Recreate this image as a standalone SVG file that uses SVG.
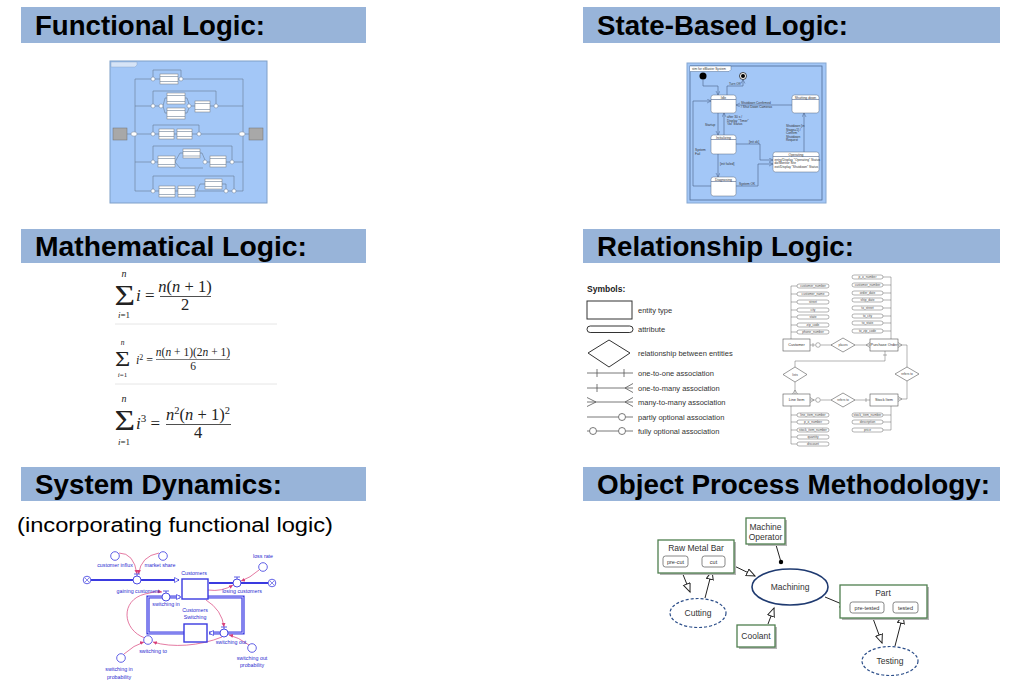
<svg xmlns="http://www.w3.org/2000/svg" width="1024" height="688" viewBox="0 0 1024 688">
<defs>
<style>
.hbar{fill:#98b4d9}
.htxt{font-family:"Liberation Sans",Arial,sans-serif;font-weight:bold;font-size:28px;fill:#000}
.sub{font-family:"Liberation Sans",Arial,sans-serif;font-size:20px;fill:#000}
.flbg{fill:#a3c7f7;stroke:#7f9fc8;stroke-width:1}
.flln{fill:none;stroke:#6a7d96;stroke-width:0.6}
.flbox{fill:#fff;stroke:#777;stroke-width:0.5}
.flc{fill:#fff;stroke:#6a7d96;stroke-width:0.5}
.flg{fill:#a8a8a8;stroke:#6f6f6f;stroke-width:0.5}
.st{fill:#fff;stroke:#5a6a80;stroke-width:0.5}
.stl{fill:none;stroke:#4b6288;stroke-width:0.6}
.stt{font-family:"Liberation Sans",Arial,sans-serif;font-size:3.2px;fill:#333}
.stn{font-family:"Liberation Sans",Arial,sans-serif;font-size:3.4px;fill:#333;text-anchor:middle}
.m{font-family:"Liberation Serif","Times New Roman",serif;fill:#222}
.mi{font-style:italic}
.sep{stroke:#e6e6e6;stroke-width:1}
.sym{font-family:"Liberation Sans",Arial,sans-serif;font-size:7.5px;fill:#333}
.symb{font-family:"Liberation Sans",Arial,sans-serif;font-size:8.5px;font-weight:bold;fill:#222}
.erl{fill:none;stroke:#555;stroke-width:0.8}
.ere{fill:#fff;stroke:#555;stroke-width:0.6}
.era{fill:#fff;stroke:#666;stroke-width:0.5}
.erline{fill:none;stroke:#666;stroke-width:0.5}
.ert{font-family:"Liberation Sans",Arial,sans-serif;font-size:3.2px;fill:#444;text-anchor:middle}
.erT{font-family:"Liberation Sans",Arial,sans-serif;font-size:3.8px;fill:#333;text-anchor:middle}
.sdp{fill:none;stroke:#3a3ae0;stroke-width:2}
.sdloop{fill:none;stroke:#3a3ae0;stroke-width:3.2}
.sdloopin{fill:none;stroke:#c9c9ff;stroke-width:1}
.sdv{fill:#fff;stroke:#3a3ae0;stroke-width:0.9}
.sdc{fill:#fff;stroke:#3a3ae0;stroke-width:0.8}
.sdk{fill:#fff;stroke:#3a3ae0;stroke-width:1.4}
.sdt{font-family:"Liberation Sans",Arial,sans-serif;font-size:5.3px;fill:#2a2ad0;text-anchor:middle}
.sdpink{fill:none;stroke:#d8407a;stroke-width:0.7}
.opb{fill:#fff;stroke:#4f7f4f;stroke-width:1.3}
.opsh{fill:#b5b5b5}
.ops{fill:#fff;stroke:#555;stroke-width:0.7}
.opt{font-family:"Liberation Sans",Arial,sans-serif;font-size:8.5px;fill:#333;text-anchor:middle}
.opts{font-family:"Liberation Sans",Arial,sans-serif;font-size:5.5px;fill:#333;text-anchor:middle}
.opl{fill:none;stroke:#222;stroke-width:1}
</style>
<marker id="stA" markerUnits="userSpaceOnUse" markerWidth="5" markerHeight="5" refX="4" refY="2" orient="auto"><path d="M0,0 L4,2 L0,4" fill="none" stroke="#4b6288" stroke-width="0.5"/></marker>
<marker id="opA" markerUnits="userSpaceOnUse" markerWidth="11" markerHeight="10" refX="9" refY="4" orient="auto"><path d="M0.5,0.5 L9,4 L0.5,7.5 z" fill="#fff" stroke="#222" stroke-width="1"/></marker>
<marker id="sdH" markerUnits="userSpaceOnUse" markerWidth="7" markerHeight="7" refX="5" refY="3" orient="auto"><path d="M0.5,0.5 L5,3 L0.5,5.5 z" fill="#fff" stroke="#3a3ae0" stroke-width="0.7"/></marker>
<marker id="sdP" markerUnits="userSpaceOnUse" markerWidth="5" markerHeight="5" refX="4" refY="2" orient="auto"><path d="M0,0 L4,2 L0,4 z" fill="#d8407a"/></marker>
</defs>
<rect width="1024" height="688" fill="#fff"/>

<g id="headers">
<rect class="hbar" x="21" y="7" width="345" height="36"/>
<text class="htxt" x="35" y="35" textLength="230" lengthAdjust="spacingAndGlyphs">Functional Logic:</text>
<rect class="hbar" x="583" y="7" width="417" height="36"/>
<text class="htxt" x="597" y="35" textLength="251" lengthAdjust="spacingAndGlyphs">State-Based Logic:</text>
<rect class="hbar" x="21" y="229" width="345" height="34"/>
<text class="htxt" x="35" y="256" textLength="272" lengthAdjust="spacingAndGlyphs">Mathematical Logic:</text>
<rect class="hbar" x="583" y="229" width="417" height="34"/>
<text class="htxt" x="597" y="256" textLength="257" lengthAdjust="spacingAndGlyphs">Relationship Logic:</text>
<rect class="hbar" x="21" y="467" width="345" height="34"/>
<text class="htxt" x="35" y="494" textLength="247" lengthAdjust="spacingAndGlyphs">System Dynamics:</text>
<rect class="hbar" x="583" y="467" width="417" height="34"/>
<text class="htxt" x="597" y="494" textLength="393" lengthAdjust="spacingAndGlyphs">Object Process Methodology:</text>
<text class="sub" x="17" y="532" textLength="316" lengthAdjust="spacingAndGlyphs">(incorporating functional logic)</text>
</g>

<g id="functional-logic">
<rect class="flbg" x="110" y="61" width="157" height="142"/>
<path d="M111,62 H137 V65 L135,67 H111 z" fill="#d6e4f7" stroke="#7f9fc8" stroke-width="0.4"/>
<rect class="flg" x="113" y="128" width="14" height="12"/>
<rect class="flg" x="249" y="128" width="14" height="12"/>
<path class="flln" d="M127,134 H132 M135,79 V191 M243,79 V191 M245,134 H249
M135,79 H151 M155,79 H160 M178,79 H179 M183,79 H243 M153,77 V70 H181 V77
M135,106 H151 M155,106 H159 M163,106 L165,98 H167 M163,106 L165,113 H167 M185,98 H187 L189,104 M185,113 H187 L189,108 M191,106 H195 M210,106 H214 M218,106 H243 M153,104 V91 H216 V104
M136,134 H151 M155,134 H159 M174,134 H177 M192,134 H197 M201,134 H239 M153,132 V125 H199 V132
M135,162 H151 M155,162 H158 M175,162 L180,153 H183 M175,162 L180,168 H203 M200,153 H202 L205,160 M207,162 H210 M226,162 H230 M234,162 H243 M153,160 V146 H232 V160
M135,191 H151 M155,191 H159 M175,191 H178 M195,191 H224 M197,191 L200,184 H205 M222,184 H226 V189 M228,191 H232 M236,191 H243 M153,189 V176 H234 V189"/>
<ellipse class="flc" cx="134" cy="134" rx="3" ry="2.2"/>
<ellipse class="flc" cx="242" cy="134" rx="3" ry="2.2"/>
<circle class="flc" cx="153" cy="79" r="2"/><circle class="flc" cx="181" cy="79" r="2"/>
<rect class="flbox" x="160" y="74" width="18" height="10"/><path class="flln" d="M160,76.5 H178 M160,81.5 H178"/>
<circle class="flc" cx="153" cy="106" r="2"/><circle class="flc" cx="161" cy="106" r="2"/><circle class="flc" cx="189" cy="106" r="2"/><circle class="flc" cx="216" cy="106" r="2"/>
<rect class="flbox" x="167" y="93" width="18" height="11"/><path class="flln" d="M167,95.5 H185 M167,101.5 H185"/>
<rect class="flbox" x="167" y="108" width="18" height="11"/><path class="flln" d="M167,110.5 H185 M167,116.5 H185"/>
<rect class="flbox" x="195" y="101" width="15" height="11"/><path class="flln" d="M195,103.5 H210 M195,109.5 H210"/>
<circle class="flc" cx="153" cy="134" r="2"/><circle class="flc" cx="199" cy="134" r="2"/>
<rect class="flbox" x="159" y="129" width="15" height="10"/><path class="flln" d="M159,131.5 H174 M159,136.5 H174"/>
<rect class="flbox" x="177" y="129" width="15" height="10"/><path class="flln" d="M177,131.5 H192 M177,136.5 H192"/>
<circle class="flc" cx="153" cy="162" r="2"/><circle class="flc" cx="205" cy="162" r="2"/><circle class="flc" cx="232" cy="162" r="2"/>
<rect class="flbox" x="158" y="156" width="17" height="11"/><path class="flln" d="M158,158.5 H175 M158,164.5 H175"/>
<rect class="flbox" x="183" y="149" width="17" height="9"/><path class="flln" d="M183,151.5 H200 M183,156 H200"/>
<rect class="flbox" x="210" y="156" width="16" height="11"/><path class="flln" d="M210,158.5 H226 M210,164.5 H226"/>
<circle class="flc" cx="153" cy="191" r="2"/><circle class="flc" cx="226" cy="191" r="2"/><circle class="flc" cx="234" cy="191" r="2"/>
<rect class="flbox" x="159" y="186" width="16" height="11"/><path class="flln" d="M159,188.5 H175 M159,194.5 H175"/>
<rect class="flbox" x="178" y="186" width="17" height="11"/><path class="flln" d="M178,188.5 H195 M178,194.5 H195"/>
<rect class="flbox" x="205" y="179" width="17" height="10"/><path class="flln" d="M205,181.5 H222 M205,186.5 H222"/>
</g>

<g id="state-based-logic">
<rect x="687" y="63" width="139" height="140" fill="#a3c7f7" stroke="#86a8d2" stroke-width="1"/>
<rect x="690" y="66" width="132" height="134" fill="none" stroke="#4f6d96" stroke-width="0.8"/>
<path d="M690,66 H731 V69.5 L729,71.5 H690" fill="#fff" stroke="#4f6d96" stroke-width="0.5"/>
<text class="stt" x="692" y="70">stm for eBlaster System</text>
<circle cx="703" cy="76" r="3.5" fill="#000"/>
<circle cx="743" cy="76" r="3.5" fill="#fff" stroke="#000" stroke-width="0.7"/><circle cx="743" cy="76" r="2" fill="#000"/>
<g id="st-conn">
<path class="stl" d="M703,79.5 V86 H718 V95" marker-end="url(#stA)"/>
<path class="stl" d="M727,95 V86 H743 V79.5" marker-end="url(#stA)"/>
<path class="stl" d="M792,105 H736" marker-end="url(#stA)"/>
<path class="stl" d="M718,113 V135" marker-end="url(#stA)"/>
<path class="stl" d="M724,135 V113" marker-end="url(#stA)"/>
<path class="stl" d="M804,152 V113" marker-end="url(#stA)"/>
<path class="stl" d="M736,144 H760 V160 H773" marker-end="url(#stA)"/>
<path class="stl" d="M718,154 V177" marker-end="url(#stA)"/>
<path class="stl" d="M736,186 H758 V164 H773" marker-end="url(#stA)"/>
<path class="stl" d="M711,186 H693 V101 H711" marker-end="url(#stA)"/>
</g>
<text class="stt" x="729" y="85">Turn Off</text>
<text class="stt" x="741" y="104">Shutdown Confirmed</text>
<text class="stt" x="741" y="108">/ Shut Down Cameras</text>
<text class="stt" x="705" y="126">Startup</text>
<text class="stt" x="727" y="118">after 30 s /</text>
<text class="stt" x="727" y="121.5">Display "Timer"</text>
<text class="stt" x="727" y="125">'Go' Status</text>
<text class="stt" x="786" y="127">Shutdown [in</text>
<text class="stt" x="786" y="130.5">Stage=1] /</text>
<text class="stt" x="786" y="134">Confirm</text>
<text class="stt" x="786" y="137.5">Shutdown</text>
<text class="stt" x="786" y="141">Request</text>
<text class="stt" x="749" y="143">[init ok]</text>
<text class="stt" x="720" y="165">[init failed]</text>
<text class="stt" x="739" y="185">System OK</text>
<text class="stt" x="695" y="151">System</text>
<text class="stt" x="695" y="155">Fail</text>
<g id="st-idle"><rect class="st" x="711" y="95" width="25" height="18" rx="2.5"/><path class="stl" d="M711,99.5 H736"/><text class="stn" x="723.5" y="98.5">Idle</text></g>
<g id="st-shut"><rect class="st" x="792" y="95" width="27" height="18" rx="2.5"/><path class="stl" d="M792,99.5 H819"/><text class="stn" x="805.5" y="98.5">Shutting down</text></g>
<g id="st-init"><rect class="st" x="711" y="135" width="25" height="19" rx="2.5"/><path class="stl" d="M711,139.5 H736"/><text class="stn" x="723.5" y="138.5">Initializing</text></g>
<g id="st-oper"><rect class="st" x="773" y="152" width="46" height="20" rx="2.5"/><path class="stl" d="M773,156.5 H819"/><text class="stn" x="796" y="155.5">Operating</text>
<text class="stt" x="774.5" y="160.5">entry/Display "Operating" Status</text><text class="stt" x="774.5" y="164">do/Monitor Site</text><text class="stt" x="774.5" y="167.5">exit/Display "Shutdown" Status</text></g>
<g id="st-diag"><rect class="st" x="711" y="177" width="25" height="19" rx="2.5"/><path class="stl" d="M711,181.5 H736"/><text class="stn" x="723.5" y="180.5">Diagnosing</text></g>
</g>

<g id="mathematical-logic">
<g id="eq1">
<text class="m mi" x="124" y="276.5" font-size="10" text-anchor="middle">n</text>
<text class="m" font-size="29" transform="translate(114.5,305) scale(1.22,1)">Σ</text>
<text class="m" x="124" y="317.5" font-size="9" text-anchor="middle"><tspan class="mi">i</tspan>=1</text>
<text class="m" x="136" y="301" font-size="17"><tspan class="mi">i</tspan> =</text>
<text class="m" x="185" y="292" font-size="16.5" text-anchor="middle"><tspan class="mi">n</tspan>(<tspan class="mi">n</tspan> + 1)</text>
<line x1="160" y1="296.5" x2="211" y2="296.5" stroke="#222" stroke-width="0.8"/>
<text class="m" x="185" y="310" font-size="16.5" text-anchor="middle">2</text>
</g>
<line class="sep" x1="115" y1="324" x2="277" y2="324"/>
<g id="eq2">
<text class="m mi" x="122.5" y="345" font-size="7.5" text-anchor="middle">n</text>
<text class="m" font-size="21.5" transform="translate(115,366) scale(1.22,1)">Σ</text>
<text class="m" x="122.5" y="377" font-size="7" text-anchor="middle"><tspan class="mi">i</tspan>=1</text>
<text class="m" x="136" y="364" font-size="12"><tspan class="mi">i</tspan><tspan font-size="8" dy="-4">2</tspan><tspan dy="4"> =</tspan></text>
<text class="m" x="193" y="356" font-size="11.5" text-anchor="middle"><tspan class="mi">n</tspan>(<tspan class="mi">n</tspan> + 1)(2<tspan class="mi">n</tspan> + 1)</text>
<line x1="156" y1="359.5" x2="230" y2="359.5" stroke="#222" stroke-width="0.6"/>
<text class="m" x="193" y="370" font-size="11.5" text-anchor="middle">6</text>
</g>
<line class="sep" x1="115" y1="384" x2="277" y2="384"/>
<g id="eq3">
<text class="m mi" x="124" y="401.5" font-size="10" text-anchor="middle">n</text>
<text class="m" font-size="29" transform="translate(114.5,430) scale(1.22,1)">Σ</text>
<text class="m" x="124" y="445" font-size="9" text-anchor="middle"><tspan class="mi">i</tspan>=1</text>
<text class="m" x="136" y="429" font-size="17"><tspan class="mi">i</tspan><tspan font-size="11" dy="-7">3</tspan><tspan dy="7"> =</tspan></text>
<text class="m" x="198" y="420" font-size="16.5" text-anchor="middle"><tspan class="mi">n</tspan><tspan font-size="10.5" dy="-6">2</tspan><tspan dy="6">(</tspan><tspan class="mi">n</tspan> + 1)<tspan font-size="10.5" dy="-6">2</tspan></text>
<line x1="166" y1="424.5" x2="231" y2="424.5" stroke="#222" stroke-width="0.8"/>
<text class="m" x="198" y="438" font-size="16.5" text-anchor="middle">4</text>
</g>
</g>

<g id="relationship-symbols">
<text class="symb" x="587" y="292">Symbols:</text>
<rect x="587" y="301" width="45" height="18" fill="#fff" stroke="#333" stroke-width="1"/>
<text class="sym" x="638" y="313">entity type</text>
<rect x="587" y="326" width="46" height="6.5" rx="3.2" fill="#fff" stroke="#333" stroke-width="1"/>
<text class="sym" x="638" y="332">attribute</text>
<path d="M588,353 L609,340 L630,353 L609,367 z" fill="#fff" stroke="#333" stroke-width="1"/>
<text class="sym" x="638" y="356">relationship between entities</text>
<path class="erl" d="M587,373 H633 M597,369 V377 M624,369 V377"/>
<text class="sym" x="638" y="376">one-to-one association</text>
<path class="erl" d="M587,388 H633 M597,384 V392 M633,383.5 L625,388 L633,392.5"/>
<text class="sym" x="638" y="391">one-to-many association</text>
<path class="erl" d="M587,402 H633 M587,397.5 L596,402 L587,406.5 M633,397.5 L625,402 L633,406.5"/>
<text class="sym" x="638" y="405">many-to-many association</text>
<path class="erl" d="M587,417 H618.5 M625.5,417 H633"/><circle cx="622" cy="417" r="3.5" fill="#fff" stroke="#555" stroke-width="0.8"/>
<text class="sym" x="638" y="420">partly optional association</text>
<path class="erl" d="M587,431 H589.5 M596.5,431 H618.5 M625.5,431 H633"/><circle cx="593" cy="431" r="3.5" fill="#fff" stroke="#555" stroke-width="0.8"/><circle cx="622" cy="431" r="3.5" fill="#fff" stroke="#555" stroke-width="0.8"/>
<text class="sym" x="638" y="434">fully optional association</text>
</g>

<g id="er-connectors">
<path class="erline" d="M791,286 V339 M791,286 H797 M791,294 H797 M791,302 H797 M791,310 H797 M791,317 H797 M791,325 H797 M791,332 H797"/>
<path class="erline" d="M891,277 V339 M891,277 H883 M891,285 H883 M891,293 H883 M891,300 H883 M891,308 H883 M891,316 H883 M891,323 H883 M891,331 H883"/>
<path class="erline" d="M791,405 V444 M791,415 H797 M791,422 H797 M791,430 H797 M791,437 H797 M791,444 H797"/>
<path class="erline" d="M891,405 V430 M891,415 H883 M891,422 H883 M891,430 H883"/>
<path class="erline" d="M810,345 H815.5 M820.5,345 H832 M813,343 V347 M855,345 H870 M870,342.5 L866,345 L870,347.5"/>
<circle cx="818" cy="345" r="2.3" fill="#fff" stroke="#666" stroke-width="0.5"/>
<path class="erline" d="M885,351 V361 H795 V367 M883,355 H887 M795,382 V394 M792.5,394 L795,390 L797.5,394"/>
<path class="erline" d="M810,400 H815.5 M820.5,400 H831 M810,397.5 L814,400 L810,402.5 M855,400 H870 M866,398 V402"/>
<circle cx="818" cy="400" r="2.3" fill="#fff" stroke="#666" stroke-width="0.5"/>
<path class="erline" d="M898,345 H907 V367 M898,342.5 L902,345 L898,347.5 M907,381 V399 H898 M898,396.5 L902,399 L898,401.5"/>
</g>
<g id="er-customer"><rect class="ere" x="783" y="339" width="27" height="12"/><text class="erT" x="796.5" y="346.3">Customer</text></g>
<g id="er-po"><rect class="ere" x="870" y="339" width="28" height="12"/><text class="erT" x="884" y="346.3">Purchase Order</text></g>
<g id="er-lineitem"><rect class="ere" x="783" y="394" width="27" height="12"/><text class="erT" x="796.5" y="401.3">Line Item</text></g>
<g id="er-stockitem"><rect class="ere" x="870" y="394" width="28" height="12"/><text class="erT" x="884" y="401.3">Stock Item</text></g>
<g id="er-places"><path class="ere" d="M831,345 L843,338 L855,345 L843,352 z"/><text class="ert" x="843" y="346.2">places</text></g>
<g id="er-lists"><path class="ere" d="M783,374.5 L795,367 L807,374.5 L795,382 z"/><text class="ert" x="795" y="375.7">lists</text></g>
<g id="er-refers1"><path class="ere" d="M831,400 L843,393 L855,400 L843,407 z"/><text class="ert" x="843" y="401.2">refers to</text></g>
<g id="er-refers2"><path class="ere" d="M895,374 L907,367 L919,374 L907,381 z"/><text class="ert" x="907" y="375.2">refers to</text></g>
<g id="er-attrs">
<rect class="era" x="797" y="284" width="32" height="4" rx="2"/><text class="ert" x="813" y="287">customer_number</text>
<rect class="era" x="797" y="292" width="32" height="4" rx="2"/><text class="ert" x="813" y="295">customer_name</text>
<rect class="era" x="797" y="300" width="32" height="4" rx="2"/><text class="ert" x="813" y="303">street</text>
<rect class="era" x="797" y="308" width="32" height="4" rx="2"/><text class="ert" x="813" y="311">city</text>
<rect class="era" x="797" y="315" width="32" height="4" rx="2"/><text class="ert" x="813" y="318">state</text>
<rect class="era" x="797" y="323" width="32" height="4" rx="2"/><text class="ert" x="813" y="326">zip_code</text>
<rect class="era" x="797" y="330" width="32" height="4" rx="2"/><text class="ert" x="813" y="333">phone_number</text>
<rect class="era" x="852" y="275" width="31" height="4" rx="2"/><text class="ert" x="867.5" y="278">p_o_number</text>
<rect class="era" x="852" y="283" width="31" height="4" rx="2"/><text class="ert" x="867.5" y="286">customer_number</text>
<rect class="era" x="852" y="291" width="31" height="4" rx="2"/><text class="ert" x="867.5" y="294">order_date</text>
<rect class="era" x="852" y="298" width="31" height="4" rx="2"/><text class="ert" x="867.5" y="301">ship_date</text>
<rect class="era" x="852" y="306" width="31" height="4" rx="2"/><text class="ert" x="867.5" y="309">to_street</text>
<rect class="era" x="852" y="314" width="31" height="4" rx="2"/><text class="ert" x="867.5" y="317">to_city</text>
<rect class="era" x="852" y="321" width="31" height="4" rx="2"/><text class="ert" x="867.5" y="324">to_state</text>
<rect class="era" x="852" y="329" width="31" height="4" rx="2"/><text class="ert" x="867.5" y="332">to_zip_code</text>
<rect class="era" x="797" y="413" width="32" height="4" rx="2"/><text class="ert" x="813" y="416">line_item_number</text>
<rect class="era" x="797" y="420" width="32" height="4" rx="2"/><text class="ert" x="813" y="423">p_o_number</text>
<rect class="era" x="797" y="428" width="32" height="4" rx="2"/><text class="ert" x="813" y="431">stock_item_number</text>
<rect class="era" x="797" y="435" width="32" height="4" rx="2"/><text class="ert" x="813" y="438">quantity</text>
<rect class="era" x="797" y="442" width="32" height="4" rx="2"/><text class="ert" x="813" y="445">discount</text>
<rect class="era" x="852" y="413" width="31" height="4" rx="2"/><text class="ert" x="867.5" y="416">stock_item_number</text>
<rect class="era" x="852" y="420" width="31" height="4" rx="2"/><text class="ert" x="867.5" y="423">description</text>
<rect class="era" x="852" y="428" width="31" height="4" rx="2"/><text class="ert" x="867.5" y="431">price</text>
</g>

<g id="sd-connectors">
<path class="sdp" d="M91,580 H179" marker-end="url(#sdH)"/>
<path class="sdp" d="M209,583 H268"/>
<path class="sdloop" d="M208,597 H243 V633 H209"/>
<path class="sdloopin" d="M208,597 H243 V633 H212"/>
<path d="M213,633 H209" stroke="none" fill="none" marker-end="url(#sdH)"/>
<path class="sdloop" d="M184,633 H148 V597 H180"/>
<path class="sdloopin" d="M184,633 H148 V597 H178"/>
<path d="M176,597 H181" fill="none" marker-end="url(#sdH)"/>
<path class="sdpink" d="M119,553 Q134,553 137,574" marker-end="url(#sdP)"/>
<path class="sdpink" d="M159,553 Q141,556 138.5,574" marker-end="url(#sdP)"/>
<path class="sdpink" d="M259,570 Q250,578 241,581" marker-end="url(#sdP)"/>
<path class="sdpink" d="M208,590 Q222,592 233,585" marker-end="url(#sdP)"/>
<path class="sdpink" d="M206,600 Q222,610 224,627" marker-end="url(#sdP)"/>
<path class="sdpink" d="M145,638 C122,630 120,600 145,594 Q155,591 162,592" marker-end="url(#sdP)"/>
<path class="sdpink" d="M222,637 C200,646 172,648 153,642" marker-end="url(#sdP)"/>
<path class="sdpink" d="M124,654 Q134,645 144,642" marker-end="url(#sdP)"/>
<path class="sdpink" d="M249,645 Q238,637 229,635" marker-end="url(#sdP)"/>
</g>
<g id="sd-nodes">
<g id="sd-cloud-l"><circle class="sdc" cx="87" cy="580" r="3.8"/><path d="M85,578 L89,582 M89,578 L85,582" stroke="#3a3ae0" stroke-width="0.6"/></g>
<g id="sd-cloud-r"><circle class="sdc" cx="272" cy="583" r="3.8"/><path d="M270,581 L274,585 M274,581 L270,585" stroke="#3a3ae0" stroke-width="0.6"/></g>
<g id="sd-customers"><rect class="sdk" x="182" y="579" width="26" height="20"/><text class="sdt" x="194" y="575">Customers</text></g>
<g id="sd-switching"><rect class="sdk" x="184" y="624" width="23" height="18"/><text class="sdt" x="195" y="612">Customers</text><text class="sdt" x="195" y="619">Switching</text></g>
<g id="sd-gaining"><path d="M134,574 H140 M137,574 V576" stroke="#3a3ae0" stroke-width="0.8"/><circle class="sdv" cx="137" cy="580" r="4"/><text class="sdt" x="138" y="593">gaining customers</text></g>
<g id="sd-losing"><path d="M234,577 H240 M237,577 V579" stroke="#3a3ae0" stroke-width="0.8"/><circle class="sdv" cx="237" cy="583" r="4"/><text class="sdt" x="242" y="593">losing customers</text></g>
<g id="sd-swin"><path d="M163,591 H169 M166,591 V593" stroke="#3a3ae0" stroke-width="0.8"/><circle class="sdv" cx="166" cy="597" r="4"/><text class="sdt" x="166" y="606">switching in</text></g>
<g id="sd-swout"><path d="M221,627 H227 M224,627 V629" stroke="#3a3ae0" stroke-width="0.8"/><circle class="sdv" cx="224" cy="633" r="4"/><text class="sdt" x="231" y="644">switching out</text></g>
<g id="sd-influx"><circle class="sdc" cx="115" cy="556" r="4.3"/><text class="sdt" x="115" y="567">customer influx</text></g>
<g id="sd-market"><circle class="sdc" cx="163" cy="556" r="4.3"/><text class="sdt" x="160" y="567">market share</text></g>
<g id="sd-loss"><circle class="sdc" cx="263" cy="567" r="4.3"/><text class="sdt" x="263" y="558">loss rate</text></g>
<g id="sd-swto"><circle class="sdc" cx="148" cy="640" r="4.3"/><text class="sdt" x="153" y="653">switching to</text></g>
<g id="sd-swinp"><circle class="sdc" cx="121" cy="658" r="4.3"/><text class="sdt" x="119" y="671">switching in</text><text class="sdt" x="119" y="679">probability</text></g>
<g id="sd-swoutp"><circle class="sdc" cx="252" cy="648" r="4.3"/><text class="sdt" x="252" y="660">switching out</text><text class="sdt" x="252" y="667">probability</text></g>
</g>

<g id="opm-connectors">
<path class="opl" d="M680,567 L690,592" marker-end="url(#opA)"/>
<path class="opl" d="M705,598 L712,571" marker-end="url(#opA)"/>
<path class="opl" d="M728,563 L755,576" marker-end="url(#opA)"/>
<path class="opl" d="M768,624 L774,608" marker-end="url(#opA)"/>
<path class="opl" d="M825,597 L849,607" marker-end="url(#opA)"/>
<path class="opl" d="M871,613 L882,643" marker-end="url(#opA)"/>
<path class="opl" d="M895,646 L903,615" marker-end="url(#opA)"/>
<path class="opl" d="M776,545 L781,562"/>
<circle cx="781" cy="562" r="2.2" fill="#000"/>
</g>
<g id="opm-raw">
<rect class="opsh" x="660" y="542" width="76" height="33"/>
<rect class="opb" x="658" y="540" width="76" height="33"/>
<text class="opt" x="696" y="551">Raw Metal Bar</text>
<rect class="ops" x="663" y="556" width="25" height="11" rx="2.5"/><text class="opts" x="675.5" y="563.5">pre-cut</text>
<rect class="ops" x="702" y="556" width="23" height="11" rx="2.5"/><text class="opts" x="713.5" y="563.5">cut</text>
</g>
<g id="opm-operator">
<rect class="opsh" x="748" y="520" width="39" height="26"/>
<rect class="opb" x="746" y="518" width="39" height="26"/>
<text class="opt" x="765.5" y="530">Machine</text><text class="opt" x="765.5" y="539.5">Operator</text>
</g>
<g id="opm-machining">
<ellipse cx="790" cy="587" rx="38" ry="18" fill="#fff" stroke="#1f3a70" stroke-width="1.6"/>
<text class="opt" x="790" y="590">Machining</text>
</g>
<g id="opm-cutting">
<ellipse cx="698" cy="613" rx="28" ry="14.5" fill="#fff" stroke="#2d4f8a" stroke-width="1.2" stroke-dasharray="3,2"/>
<text class="opt" x="698" y="616">Cutting</text>
</g>
<g id="opm-coolant">
<rect class="opsh" x="739" y="627" width="38" height="22"/>
<rect class="opb" x="737" y="625" width="38" height="22"/>
<text class="opt" x="756" y="639">Coolant</text>
</g>
<g id="opm-part">
<rect class="opsh" x="842" y="587" width="87" height="33"/>
<rect class="opb" x="840" y="585" width="87" height="33"/>
<text class="opt" x="883" y="596">Part</text>
<rect class="ops" x="850" y="602" width="34" height="11" rx="2.5"/><text class="opts" x="867" y="609.5">pre-tested</text>
<rect class="ops" x="893" y="602" width="25" height="11" rx="2.5"/><text class="opts" x="905.5" y="609.5">tested</text>
</g>
<g id="opm-testing">
<ellipse cx="890" cy="661" rx="28" ry="14.5" fill="#fff" stroke="#2d4f8a" stroke-width="1.2" stroke-dasharray="3,2"/>
<text class="opt" x="890" y="664">Testing</text>
</g>
</svg>
